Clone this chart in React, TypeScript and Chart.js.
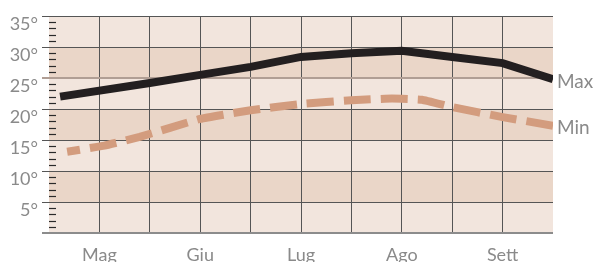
import React, { useEffect, useRef } from "react";
import { Chart, registerables } from "chart.js";

Chart.register(...registerables);

// x in month units: 0 = start of Maggio, 5 = end of Settembre
const monthLabels = ["Mag", "Giu", "Lug", "Ago", "Sett"];
const maxX = [0.11, 1.0, 1.5, 2.0, 2.5, 3.0, 3.5, 4.0, 4.5, 5.0];
const maxY = [22.0, 24.2, 25.5, 26.8, 28.4, 29.0, 29.4, 28.4, 27.4, 24.8];
const minX = [0.18, 0.55, 0.9, 1.5, 2.0, 2.5, 3.0, 3.4, 3.7, 4.0, 4.5, 5.0];
const minY = [13.1, 14.1, 15.5, 18.4, 19.8, 20.8, 21.4, 21.7, 21.5, 20.3, 18.7, 17.3];
const seriesNames = ["Max", "Min"];
const yTicks = [0, 5, 10, 15, 20, 25, 30, 35];

const FONT = "Lato, 'DejaVu Sans', sans-serif";

const bandsPlugin = {
  id: "bands",
  beforeDraw(chart: any) {
    const { ctx, chartArea, scales } = chart;
    const y = scales.y;
    ctx.save();
    for (let i = 0; i < yTicks.length - 1; i++) {
      const top = y.getPixelForValue(yTicks[i + 1]);
      const bot = y.getPixelForValue(yTicks[i]);
      ctx.fillStyle = i % 2 === 0 ? "#f2e5dd" : "#ead6c8";
      ctx.fillRect(chartArea.left, top, chartArea.right - chartArea.left, bot - top);
    }
    ctx.restore();
  },
  afterDraw(chart: any) {
    const { ctx, chartArea, scales } = chart;
    const y = scales.y;
    ctx.save();
    // minor ticks every degree
    ctx.strokeStyle = "#2a2a2a";
    ctx.lineWidth = 1.2;
    for (let v = 1; v < 35; v++) {
      if (v % 5 === 0) continue;
      const py = Math.round(y.getPixelForValue(v)) + 0.5;
      ctx.beginPath();
      ctx.moveTo(chartArea.left, py);
      ctx.lineTo(chartArea.left + 7, py);
      ctx.stroke();
    }
    // series labels at the right end
    ctx.fillStyle = "#8a8a8a";
    ctx.font = "19px " + FONT;
    ctx.textAlign = "left";
    ctx.textBaseline = "alphabetic";
    chart.data.datasets.forEach((ds: any, i: number) => {
      const meta = chart.getDatasetMeta(i);
      const last = meta.data[meta.data.length - 1];
      ctx.fillText(seriesNames[i], chartArea.right + 4, last.y + 8.5);
    });
    ctx.restore();
  },
};

export default function App() {
  const ref = useRef<HTMLCanvasElement>(null);
  useEffect(() => {
    document.body.style.margin = "0";
    const chart = new Chart(ref.current!, {
      type: "line",
      data: {
        datasets: [
          {
            label: seriesNames[0],
            data: maxX.map((x, i) => ({ x, y: maxY[i] })),
            borderColor: "#231f20",
            borderWidth: 8,
            borderCapStyle: "butt",
            borderJoinStyle: "miter",
            pointRadius: 0,
            tension: 0,
          },
          {
            label: seriesNames[1],
            data: minX.map((x, i) => ({ x, y: minY[i] })),
            borderColor: "#d39c7e",
            borderWidth: 8,
            borderDash: [27, 10],
            borderDashOffset: 14,
            borderCapStyle: "butt",
            pointRadius: 0,
            tension: 0.1,
          },
        ],
      },
      options: {
        animation: false,
        responsive: false,
        devicePixelRatio: 1,
        layout: { padding: { top: 16, right: 40, left: 0, bottom: 0 } },
        plugins: { legend: { display: false }, tooltip: { enabled: false } },
        scales: {
          x: {
            type: "linear",
            min: 0,
            max: 5,
            afterFit: (s: any) => {
              s.height = 29;
            },
            afterBuildTicks: (s: any) => {
              const t = [];
              for (let i = 0; i <= 10; i++) t.push({ value: i / 2 });
              s.ticks = t;
            },
            ticks: {
              autoSkip: false,
              maxRotation: 0,
              padding: 11,
              color: "#8a8a8a",
              font: { family: FONT, size: 18 },
              callback: (v: any) => {
                const n = Number(v);
                if (Math.abs(n * 2 - Math.round(n * 2)) < 1e-6 && Math.round(n * 2) % 2 === 1) {
                  return monthLabels[Math.floor(n)];
                }
                return "";
              },
            },
            grid: {
              drawTicks: false,
              color: (c: any) =>
                c.tick && (c.tick.value === 0 || c.tick.value === 5) ? "rgba(0,0,0,0)" : "#555555",
              lineWidth: 1,
            },
            border: { display: false },
          },
          y: {
            min: 0,
            max: 35,
            afterFit: (s: any) => {
              s.width = 49;
            },
            ticks: {
              stepSize: 5,
              padding: 4,
              labelOffset: 8,
              color: "#8a8a8a",
              font: { family: FONT, size: 18 },
              callback: (v: any) => (Number(v) === 0 ? "" : v + "°"),
            },
            grid: {
              tickLength: 7,
              color: (c: any) =>
                c.tick && c.tick.value === 0
                  ? "#8c8c8c"
                  : c.tick && c.tick.value === 25
                  ? "#b09e94"
                  : "#555555",
              lineWidth: (c: any) =>
                c.tick && (c.tick.value === 0 || c.tick.value === 25) ? 2 : 1,
            },
            border: { display: false },
          },
        },
      },
      plugins: [bandsPlugin],
    } as any);
    return () => chart.destroy();
  }, []);
  return <canvas ref={ref} width={593} height={262} style={{ display: "block" }} />;
}
